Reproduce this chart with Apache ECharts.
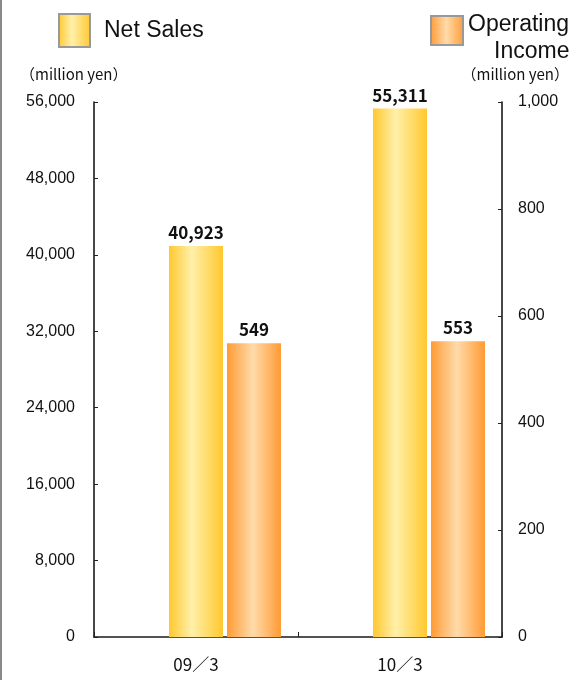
<!DOCTYPE html>
<html>
<head>
<meta charset="utf-8">
<script src="https://cdn.jsdelivr.net/npm/echarts@6/dist/echarts.min.js"></script>
<style>
  html, body { margin: 0; padding: 0; background: #fff; }
  #chart { width: 583px; height: 680px; }
</style>
</head>
<body>
<div id="chart"></div>
<script>
// Fiscal periods and results (million yen)
const periods = ['09／3', '10／3'];
const netSales = [40923, 55311];
const operatingIncome = [549, 553];
const spacer = [null, null];

// Axis scales
const salesMax = 56000, salesStep = 8000;
const incomeMax = 1000, incomeStep = 200;

const chart = echarts.init(document.getElementById('chart'));

function barGradient(edge, mid, midPos) {
  return new echarts.graphic.LinearGradient(0, 0, 1, 0, [
    { offset: 0, color: edge },
    { offset: midPos, color: mid },
    { offset: 1, color: edge }
  ]);
}

const salesFill = barGradient('#FFC82E', '#FFF0AA', 0.42);
const incomeFill = barGradient('#FF9B35', '#FFDBAA', 0.48);

const axisLineStyle = { color: '#1a1a1a', width: 1.6 };
const tickFont = { fontFamily: '"Liberation Sans", Arial, sans-serif', fontSize: 16, color: '#111' };
const valueLabel = {
  show: true,
  position: 'top',
  distance: 5,
  fontFamily: '"Noto Sans CJK JP", sans-serif',
  fontWeight: 'bold',
  fontSize: 17,
  color: '#111'
};

chart.setOption({
  animation: false,
  backgroundColor: '#fff',
  grid: { left: 94, right: 81, top: 102, bottom: 43, containLabel: false },
  legend: [
    {
      data: ['Net Sales'],
      left: 53,
      top: 8,
      icon: 'rect',
      itemWidth: 31,
      itemHeight: 33,
      itemStyle: { borderColor: '#999', borderWidth: 2 },
      textStyle: {
        fontFamily: '"Liberation Sans", Arial, sans-serif',
        fontSize: 23,
        color: '#111',
        padding: [0, 0, 0, 9]
      },
      selectedMode: false
    },
    {
      data: ['Operating Income'],
      left: 425,
      top: 8,
      icon: 'rect',
      itemWidth: 32,
      itemHeight: 29,
      itemStyle: { borderColor: '#999', borderWidth: 2 },
      formatter: () => '{a|Operating}\n{b|Income}',
      textStyle: {
        fontFamily: '"Liberation Sans", Arial, sans-serif',
        fontSize: 23,
        color: '#111',
        padding: [15, 0, 0, 0],
        rich: {
          a: { fontFamily: '"Liberation Sans", Arial, sans-serif', fontSize: 23, lineHeight: 27, color: '#111' },
          b: { fontFamily: '"Liberation Sans", Arial, sans-serif', fontSize: 23, lineHeight: 27, color: '#111', padding: [0, 0, 0, 26] }
        }
      },
      selectedMode: false
    }
  ],
  graphic: [
    {
      type: 'line',
      shape: { x1: 1, y1: 0, x2: 1, y2: 680 },
      style: { stroke: '#8a8a8a', lineWidth: 2 }
    },
    {
      type: 'text',
      left: 20,
      top: 67,
      style: { text: '（million yen）', font: '15px "Noto Sans CJK JP", sans-serif', fill: '#111' }
    },
    {
      type: 'text',
      right: 14,
      top: 67,
      style: { text: '（million yen）', font: '15px "Noto Sans CJK JP", sans-serif', fill: '#111' }
    }
  ],
  xAxis: {
    type: 'category',
    data: periods,
    axisLine: { lineStyle: axisLineStyle },
    axisTick: { show: true, inside: true, length: 5, lineStyle: { color: '#222' } },
    axisLabel: {
      margin: 19,
      fontFamily: '"Noto Sans CJK JP", sans-serif',
      fontSize: 17,
      color: '#111'
    }
  },
  yAxis: [
    {
      type: 'value',
      min: 0,
      max: salesMax,
      interval: salesStep,
      position: 'left',
      axisLine: { show: true, lineStyle: axisLineStyle },
      axisTick: { show: true, inside: true, length: 4, lineStyle: { color: '#222' } },
      splitLine: { show: false },
      axisLabel: Object.assign({ margin: 19, formatter: v => v.toLocaleString('en-US') }, tickFont)
    },
    {
      type: 'value',
      min: 0,
      max: incomeMax,
      interval: incomeStep,
      position: 'right',
      axisLine: { show: true, lineStyle: axisLineStyle },
      axisTick: { show: true, inside: true, length: 4, lineStyle: { color: '#222' } },
      splitLine: { show: false },
      axisLabel: Object.assign({ margin: 16, formatter: v => v.toLocaleString('en-US') }, tickFont)
    }
  ],
  series: [
    {
      // empty slot keeps the pair of bars right of the category centre
      name: 'spacer',
      type: 'bar',
      yAxisIndex: 0,
      data: spacer,
      barWidth: 54,
      barGap: '7.4%',
      silent: true,
      itemStyle: { color: 'transparent' }
    },
    {
      name: 'Net Sales',
      type: 'bar',
      yAxisIndex: 0,
      data: netSales,
      barWidth: 54,
      barGap: '7.4%',
      itemStyle: { color: salesFill },
      label: Object.assign({ formatter: p => p.value.toLocaleString('en-US') }, valueLabel)
    },
    {
      name: 'Operating Income',
      type: 'bar',
      yAxisIndex: 1,
      data: operatingIncome,
      barWidth: 54,
      barGap: '7.4%',
      itemStyle: { color: incomeFill },
      label: Object.assign({ formatter: p => p.value.toLocaleString('en-US') }, valueLabel)
    }
  ]
});
</script>
</body>
</html>
